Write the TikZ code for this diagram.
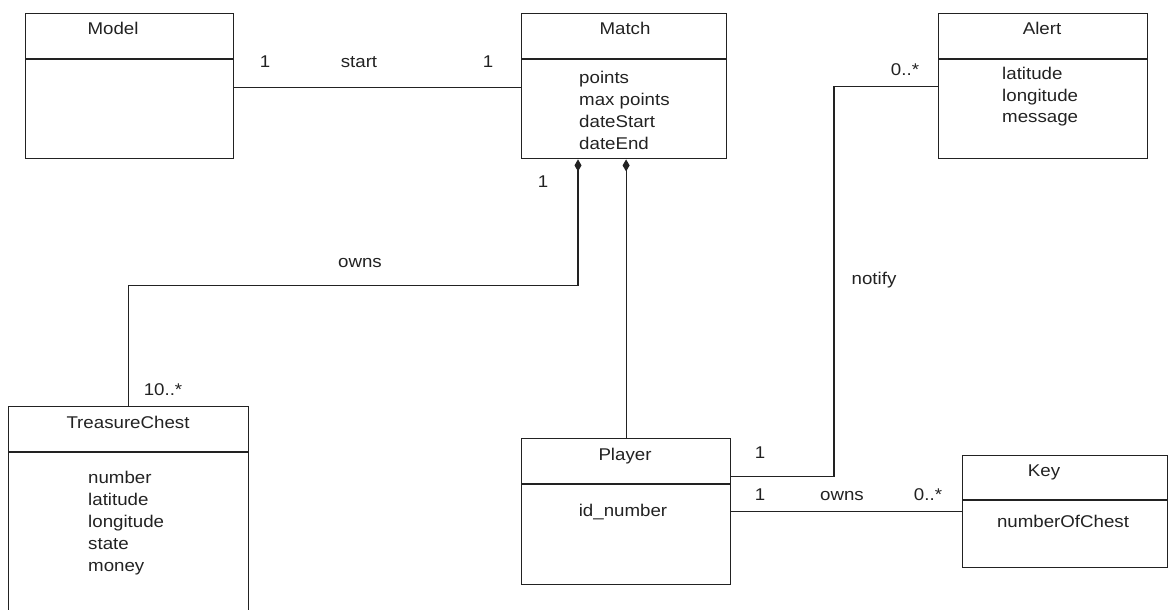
\documentclass[tikz,border=0pt]{standalone}
\usepackage{fontspec}
\setmainfont{Liberation Sans}[FakeStretch=1.1]
\usetikzlibrary{arrows.meta}
\newcommand\umlfont{\fontsize{17pt}{22pt}\selectfont}
\definecolor{ink}{HTML}{222222}
\begin{document}
\begin{tikzpicture}[x=1pt,y=-1pt]
\tikzset{
  part/.style={draw=ink, line width=1.2pt, inner sep=0pt, anchor=north west},
  txt/.style={inner sep=0pt, anchor=base, font=\umlfont, text=ink},
  attr/.style={txt, anchor=base west},
  link/.style={draw=ink, line width=1.2pt},
  comp/.style={link, {Diamond[length=12pt,width=7pt]}-}
}
\useasboundingbox (0,0) rectangle (1170,610);
\clip (0,0) rectangle (1170,610);

% ---- classes: header and body compartments
\node[part, minimum width=208pt, minimum height=45pt] (modelH) at (25,13) {};
\node[part, minimum width=208pt, minimum height=99pt] (modelB) at (modelH.south west) {};
\node[txt] (modelT) at (113,35) {Model};

\node[part, minimum width=205pt, minimum height=45pt] (matchH) at (521,13) {};
\node[part, minimum width=205pt, minimum height=99pt] (matchB) at (matchH.south west) {};
\node[txt] (matchT) at (625,35) {Match};
\foreach \t [count=\i] in {points, max points, dateStart, dateEnd}
  \node[attr] (matchA\i) at (579, 83+22*\i-22) {\t};

\node[part, minimum width=209pt, minimum height=45pt] (alertH) at (938,13) {};
\node[part, minimum width=209pt, minimum height=99pt] (alertB) at (alertH.south west) {};
\node[txt] (alertT) at (1042,35) {Alert};
\foreach \t [count=\i] in {latitude, longitude, message}
  \node[attr] (alertA\i) at (1002, 80+21*\i-21) {\t};

\node[part, minimum width=240pt, minimum height=45pt] (tcH) at (8,406) {};
\node[part, minimum width=240pt, minimum height=170pt] (tcB) at (tcH.south west) {};
\node[txt] (tcT) at (128,428) {TreasureChest};
\foreach \t [count=\i] in {number, latitude, longitude, state, money}
  \node[attr] (tcA\i) at (88, 483+22*\i-22) {\t};

\node[part, minimum width=209pt, minimum height=45pt] (playerH) at (521,438) {};
\node[part, minimum width=209pt, minimum height=100pt] (playerB) at (playerH.south west) {};
\node[txt] (playerT) at (625,460) {Player};
\node[txt] (playerA1) at (623,516) {id\_number};

\node[part, minimum width=205pt, minimum height=44pt] (keyH) at (962,455) {};
\node[part, minimum width=205pt, minimum height=67pt] (keyB) at (keyH.south west) {};
\node[txt] (keyT) at (1044,476) {Key};
\node[txt] (keyA1) at (1063,527) {numberOfChest};

% ---- associations
\draw[link] ([yshift=-28pt]modelB.north west -| modelB.east) -- ([yshift=-28pt]matchB.north west);
\node[txt] (mm1) at (265,67) {1};
\node[txt] (mmS) at (359,67) {start};
\node[txt] (mm2) at (488,67) {1};

\draw[comp] ([xshift=57pt]matchB.south west) -- ++(0,126) -| (tcH.north);
\node[txt] (mt1) at (543,187) {1};
\node[txt] (mtO) at (360,267) {owns};
\node[txt] (mt2) at (163,395) {10..*};

\draw[comp] (playerH.north |- matchB.south) -- (playerH.north);

\draw[link] ([yshift=-27pt]alertB.north west) -- ++(-104,0) |- ([yshift=8pt]playerH.south east);
\node[txt] (ap1) at (905,75) {0..*};
\node[txt] (apN) at (874,284) {notify};
\node[txt] (ap2) at (760,458) {1};

\draw[link] ([yshift=-27pt]playerB.north east) coordinate (pk) -- (pk -| keyB.west);
\node[txt] (pk1) at (760,500) {1};
\node[txt] (pkO) at (842,500) {owns};
\node[txt] (pk2) at (928,500) {0..*};
\end{tikzpicture}
\end{document}
